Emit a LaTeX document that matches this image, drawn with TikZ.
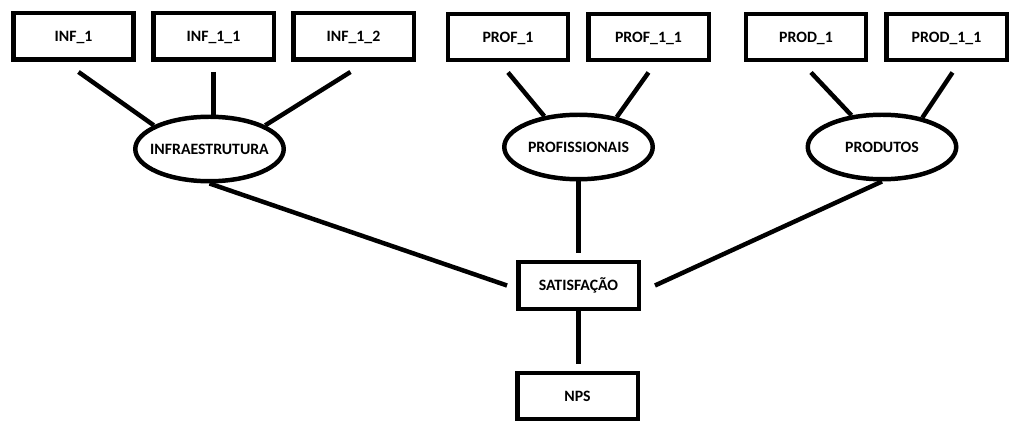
\documentclass[tikz,border=0pt]{standalone}
\usepackage{fontspec}
\setmainfont{Carlito}
\usetikzlibrary{shapes.geometric}

\begin{document}
\begin{tikzpicture}[x=0.02cm,y=-0.02cm,
every node/.style={font=\fontsize{9}{11}\selectfont\bfseries},
box/.style={draw,line width=2.55pt,minimum width=2.41cm,minimum height=0.93cm,inner sep=0pt,text height=5.8pt,text depth=0pt},
bubble/.style={draw,ellipse,line width=2.55pt,minimum width=2.97cm,minimum height=1.29cm,inner xsep=-0.3cm,inner ysep=0pt,text height=5.8pt,text depth=0pt},
link/.style={line width=2.55pt}]
\useasboundingbox (0,0) rectangle (1021,438);
\node[box] (i1) at (73.5,36.5) {INF\_1};
\node[box] (i2) at (213.5,36.5) {INF\_1\_1};
\node[box] (i3) at (353.5,36.5) {INF\_1\_2};
\node[box] (p1) at (508,37) {PROF\_1};
\node[box] (p2) at (648.5,37) {PROF\_1\_1};
\node[box] (d1) at (806,37) {PROD\_1};
\node[box] (d2) at (946.5,37) {PROD\_1\_1};
\node[bubble] (infra) at (209.5,149) {INFRAESTRUTURA};
\node[bubble] (prof) at (578.5,147) {PROFISSIONAIS};
\node[bubble] (prod) at (882,147) {PRODUTOS};
\node[box] (sat) at (578.5,285.5) {SATISFAÇÃO};
\node[box] (nps) at (577.5,396) {NPS};
\draw[link] ([xshift=0.1cm,yshift=-0.2cm]i1.south) -- (infra.157);
\draw[link] ([yshift=-0.2cm]i2.south) -- (i2.south |- infra.north);
\draw[link] ([xshift=-0.06cm,yshift=-0.2cm]i3.south) -- (infra.23);
\draw[link] ([yshift=-0.2cm]p1.south) -- (prof.138);
\draw[link] ([yshift=-0.2cm]p2.south) -- (prof.38);
\draw[link] ([xshift=0.1cm,yshift=-0.2cm]d1.south) -- (prod.134);
\draw[link] ([xshift=0.12cm,yshift=-0.2cm]d2.south) -- (prod.36);
\draw[link] (infra.south) -- ([xshift=-0.18cm]sat.west);
\draw[link] (prof.south) -- ([yshift=0.14cm]sat.north);
\draw[link] (prod.south) -- ([xshift=0.28cm]sat.east);
\draw[link] (sat.south) -- ([yshift=0.14cm]sat.south |- nps.north);
\end{tikzpicture}
\end{document}
